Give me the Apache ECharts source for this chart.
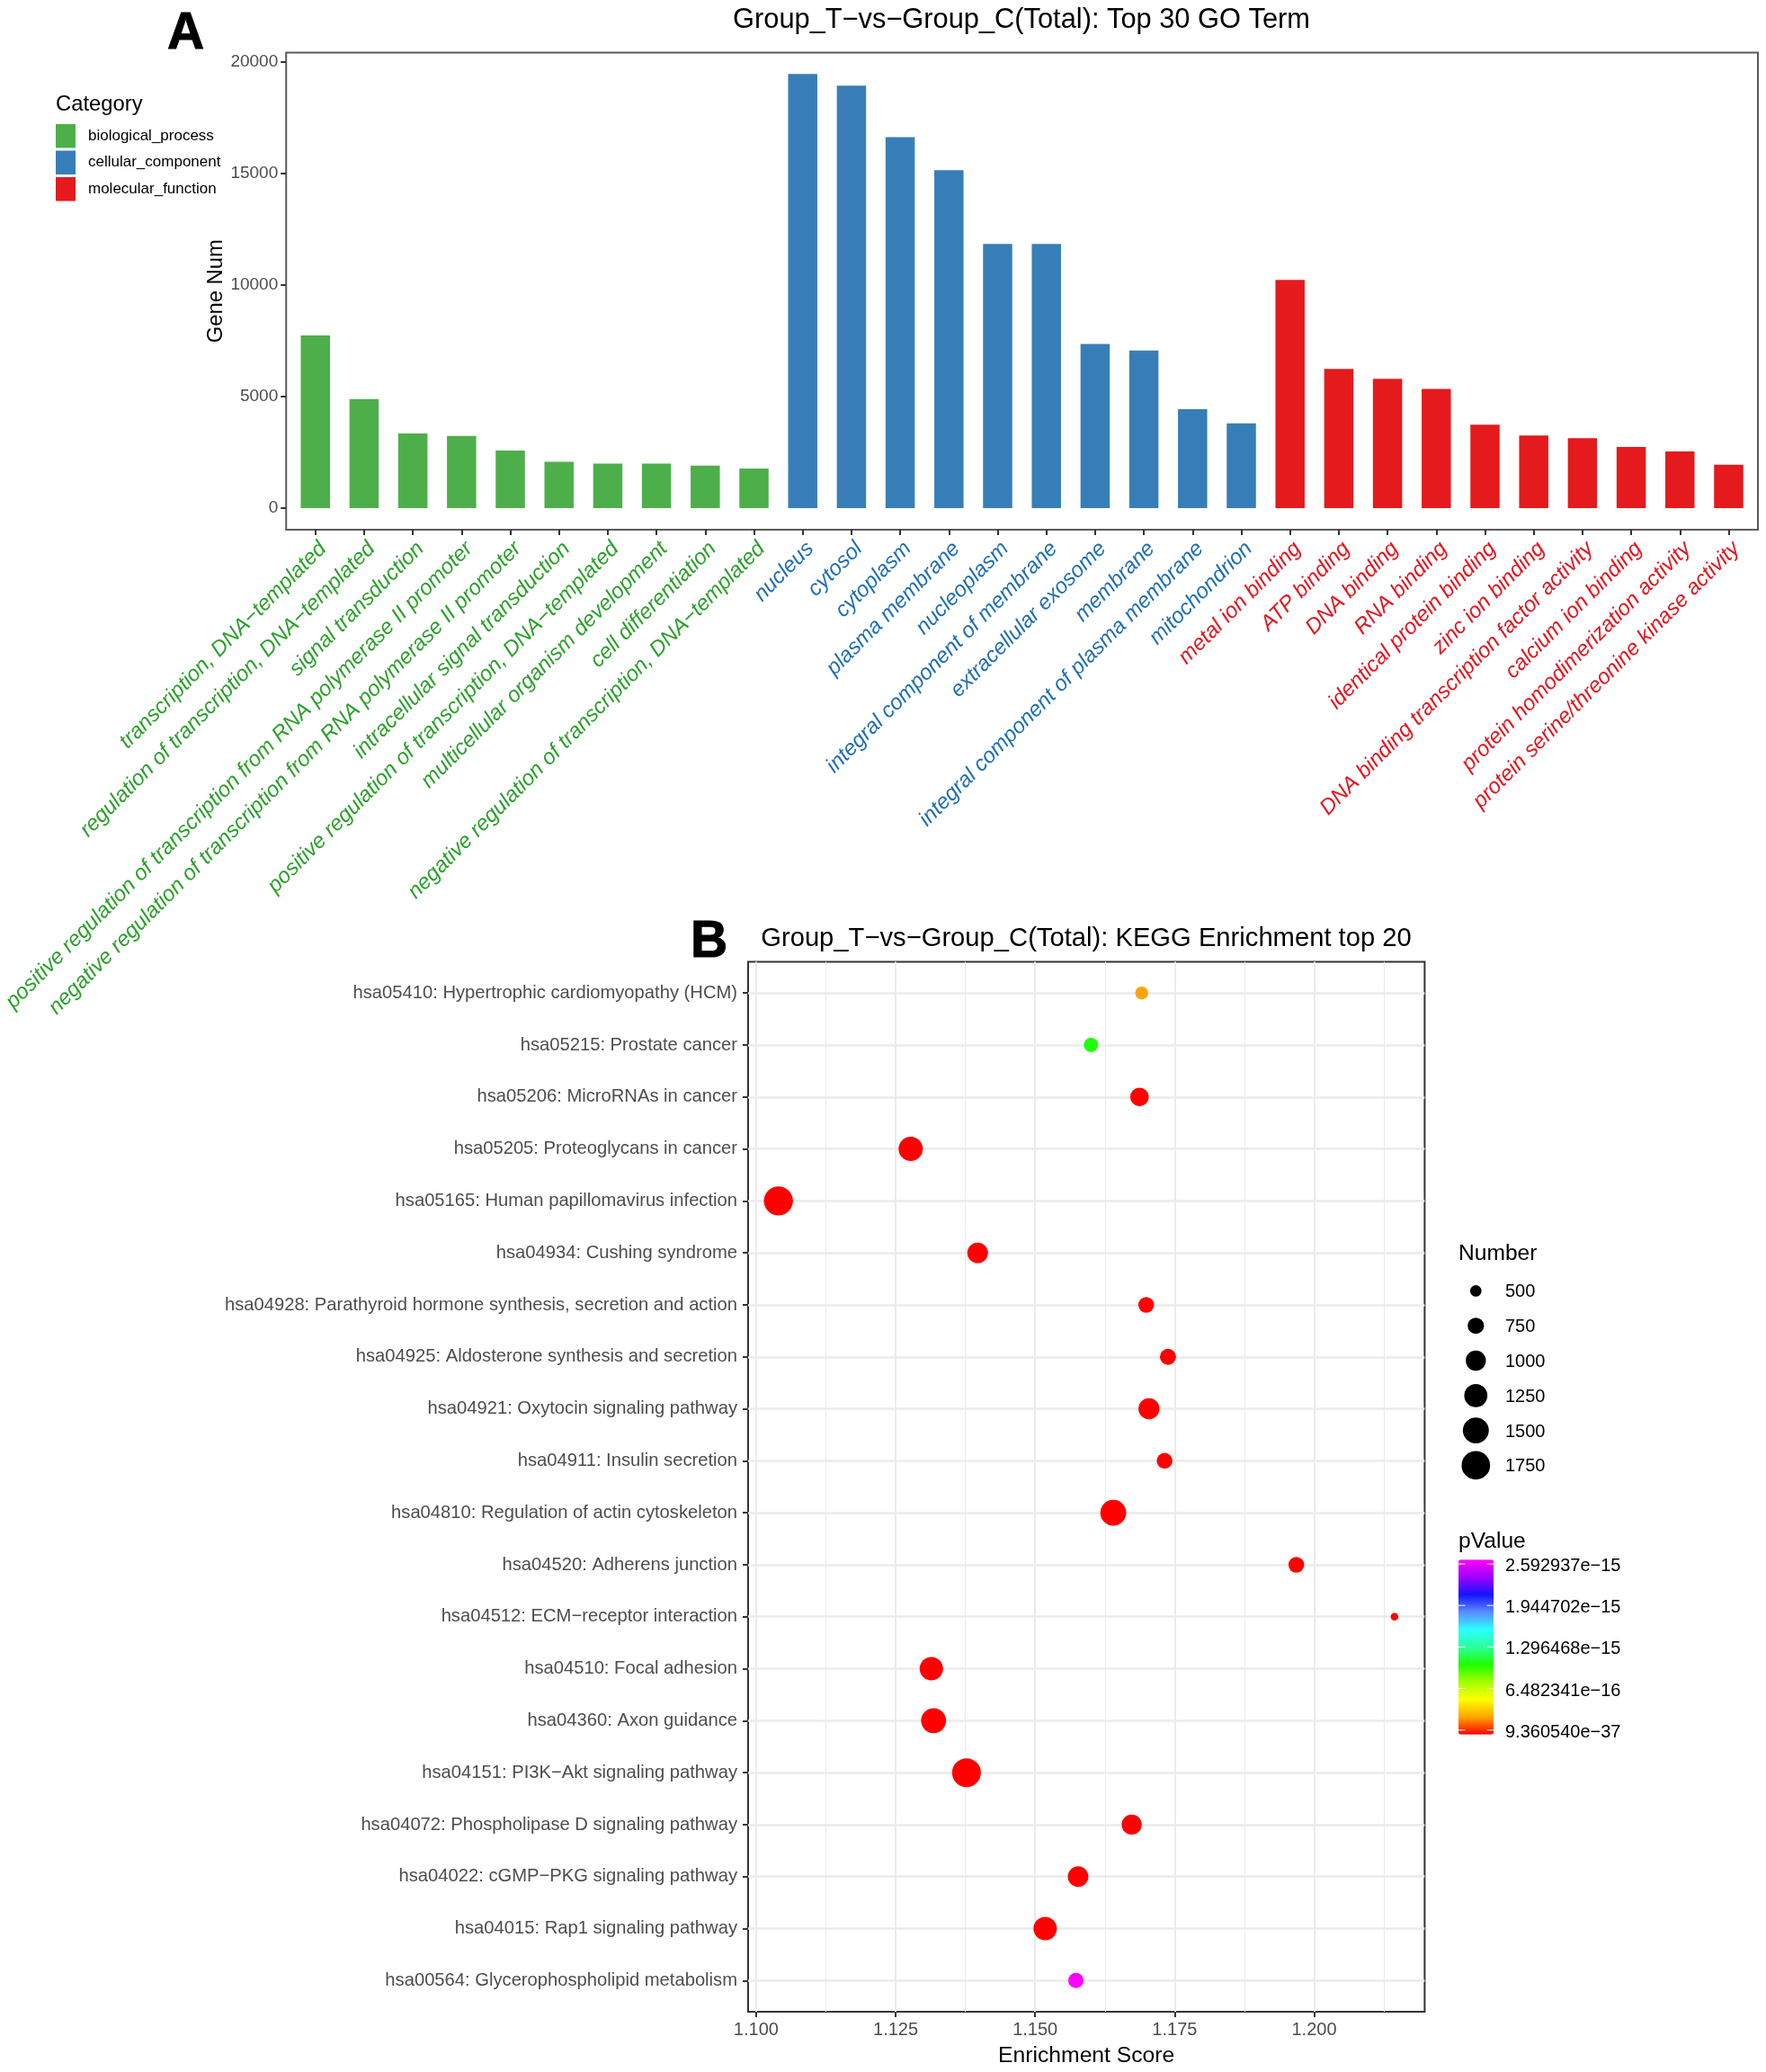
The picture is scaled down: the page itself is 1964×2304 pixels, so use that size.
<!DOCTYPE html>
<html lang="en">
  <head>
    <meta charset="UTF-8" />
    <title>Group_T-vs-Group_C GO and KEGG</title>
    <script src="https://cdn.jsdelivr.net/npm/echarts@6/dist/echarts.min.js"></script>
    <style>
      body { margin: 0; background: #fff; }
    </style>
  </head>
  <body>
    <div id="main" style="width: 1964px; height: 2304px"></div>
    <script type="text/javascript">
      // Panel A: GO terms, one list per category
      const bpTerms = ["transcription, DNA\u2212templated", "regulation of transcription, DNA\u2212templated", "signal transduction",
        "positive regulation of transcription from RNA polymerase II promoter", "negative regulation of transcription from RNA polymerase II promoter",
        "intracellular signal transduction", "positive regulation of transcription, DNA\u2212templated", "multicellular organism development",
        "cell differentiation", "negative regulation of transcription, DNA\u2212templated"];
      const ccTerms = ["nucleus", "cytosol", "cytoplasm", "plasma membrane", "nucleoplasm", "integral component of membrane",
        "extracellular exosome", "membrane", "integral component of plasma membrane", "mitochondrion"];
      const mfTerms = ["metal ion binding", "ATP binding", "DNA binding", "RNA binding", "identical protein binding", "zinc ion binding",
        "DNA binding transcription factor activity", "calcium ion binding", "protein homodimerization activity", "protein serine/threonine kinase activity"];
      const bpCounts = [7740, 4885, 3350, 3240, 2585, 2075, 1995, 1995, 1900, 1770];
      const ccCounts = [19470, 18945, 16630, 15150, 11845, 11840, 7360, 7070, 4435, 3800];
      const mfCounts = [10230, 6240, 5795, 5345, 3735, 3255, 3130, 2745, 2540, 1945];
      const geneTicks = [0, 5000, 10000, 15000, 20000];

      // Panel B: KEGG pathways, top row first
      const pathways = ["hsa05410: Hypertrophic cardiomyopathy (HCM)", "hsa05215: Prostate cancer", "hsa05206: MicroRNAs in cancer",
        "hsa05205: Proteoglycans in cancer", "hsa05165: Human papillomavirus infection", "hsa04934: Cushing syndrome",
        "hsa04928: Parathyroid hormone synthesis, secretion and action", "hsa04925: Aldosterone synthesis and secretion",
        "hsa04921: Oxytocin signaling pathway", "hsa04911: Insulin secretion", "hsa04810: Regulation of actin cytoskeleton",
        "hsa04520: Adherens junction", "hsa04512: ECM\u2212receptor interaction", "hsa04510: Focal adhesion", "hsa04360: Axon guidance",
        "hsa04151: PI3K\u2212Akt signaling pathway", "hsa04072: Phospholipase D signaling pathway", "hsa04022: cGMP\u2212PKG signaling pathway",
        "hsa04015: Rap1 signaling pathway", "hsa00564: Glycerophospholipid metabolism"];
      const scores = [1.1691, 1.16, 1.1687, 1.1277, 1.104, 1.1397, 1.1699, 1.1738, 1.1704, 1.1732,
        1.164, 1.1968, 1.2144, 1.1314, 1.1318, 1.1377, 1.1673, 1.1577, 1.1518, 1.1573];
      const numbers = [570, 640, 900, 1340, 1820, 1040, 715, 740, 1075, 715,
        1485, 715, 370, 1265, 1400, 1780, 1000, 1040, 1265, 690];
      const pValues = [2.6e-16, 1.05e-15, 1e-20, 1e-22, 1e-25, 1e-20, 1e-20, 1e-20, 1e-20, 1e-20,
        1e-22, 1e-20, 9.36054e-37, 1e-24, 1e-26, 1e-22, 1e-20, 1e-20, 1e-22, 2.592937e-15];
      const majorScores = [1.1, 1.125, 1.15, 1.175, 1.2];
      const minorScores = [1.1125, 1.1375, 1.1625, 1.1875, 1.2125];
      const numberLegend = [500, 750, 1000, 1250, 1500, 1750];
      const pLegend = ["2.592937e\u221215", "1.944702e\u221215", "1.296468e\u221215", "6.482341e\u221216", "9.360540e\u221237"];
      const rainbow = ["#ff0000", "#ffa500", "#ffff00", "#a4ff00", "#1cff00", "#2cff9c", "#2cffff", "#5a8cff", "#1414ff", "#a000ff", "#ff00ff"];

      const FONT = '"Liberation Sans", Helvetica, Arial, sans-serif';
      const GREEN = "#4DAF4A", BLUE = "#377EB8", RED = "#E41A1C";
      const LABEL_COLORS = ["#2CA02C", "#1F6EB4", "#E6141E"];

      const terms = bpTerms.concat(ccTerms, mfTerms);
      const termIndex = terms.map((t, i) => i);
      const rowIndex = pathways.map((p, i) => i);

      // point size follows area, fitted on the Number legend
      function dotSize(n) {
        return Math.sqrt(0.675 * n - 177);
      }

      function text(x, y, str, size, extra) {
        return {
          type: "text", x: x, y: y,
          style: Object.assign({ text: str, font: size + "px " + FONT, fill: "#000", align: "left", verticalAlign: "middle" }, extra || {}),
        };
      }

      const heavy = { font: "bold 57px " + FONT, stroke: "#000", lineWidth: 1 };
      const graphics = [
        text(186, 38, "A", 57, heavy),
        text(768, 1048, "B", 57, heavy),
        text(1136, 23, "Group_T\u2212vs\u2212Group_C(Total): Top 30 GO Term", 30.8, { align: "center" }),
        text(1208, 1044, "Group_T\u2212vs\u2212Group_C(Total): KEGG Enrichment top 20", 29.2, { align: "center" }),
        text(62, 116, "Category", 23.8),
        text(1622, 1394, "Number", 24.6),
        text(1622, 1714, "pValue", 24.6),
      ];
      numberLegend.forEach((n, i) => {
        const y = 1435.4 + i * 38.8;
        graphics.push({ type: "circle", shape: { cx: 1641.3, cy: y, r: dotSize(n) / 2 }, style: { fill: "#000" } });
        graphics.push(text(1674, y + 1.5, String(n), 20));
      });
      pLegend.forEach((s, i) => {
        const y = 1739 + i * 46.2;
        graphics.push(text(1674, y + 2.5, s, 20));
        graphics.push({ type: "rect", z: 10, shape: { x: 1622, y: y - 0.5, width: 7.5, height: 1 }, style: { fill: "#fff" } });
        graphics.push({ type: "rect", z: 10, shape: { x: 1653.5, y: y - 0.5, width: 7.5, height: 1 }, style: { fill: "#fff" } });
      });

      function barSeries(name, color, offset, values) {
        return {
          name: name, type: "bar", xAxisIndex: 0, yAxisIndex: 0, barWidth: 32.5, barGap: "-100%",
          itemStyle: { color: color },
          data: values.map((v, i) => [offset + i, v]),
        };
      }

      let myChart = echarts.init(document.getElementById("main"));
      let options = {
        animation: false,
        textStyle: { fontFamily: FONT },
        grid: [
          { left: 317.5, top: 58.5, width: 1637.5, height: 530.5, show: true, borderColor: "#5a5a5a", borderWidth: 2 },
          { left: 832, top: 1069.5, width: 752.4, height: 1169.5, show: true, borderColor: "#333", borderWidth: 2 },
        ],
        legend: {
          orient: "vertical", left: 62, top: 138, padding: 0, itemWidth: 22, itemHeight: 26.5, itemGap: 3, selectedMode: false, icon: "rect",
          itemStyle: { borderWidth: 0 },
          textStyle: { fontSize: 17, color: "#000", fontFamily: FONT, padding: [3, 0, 0, 9] },
          data: ["biological_process", "cellular_component", "molecular_function"],
        },
        visualMap: {
          type: "continuous", seriesIndex: 3, dimension: 3, min: 0, max: 2.592937e-15, calculable: false, showLabel: false, text: null,
          left: 1622, top: 1734.3, padding: 0, itemWidth: 39, itemHeight: 194.4, inRange: { color: rainbow },
        },
        xAxis: [
          {
            gridIndex: 0, type: "value", min: -0.6, max: 29.6, position: "bottom",
            axisLine: { show: false, onZero: false }, splitLine: { show: false },
            axisTick: { length: 6, lineStyle: { color: "#333", width: 2 }, customValues: termIndex },
            axisLabel: {
              customValues: termIndex, rotate: 45, margin: 9, align: "right", verticalAlign: "top", fontStyle: "italic", fontSize: 24, fontFamily: FONT,
              formatter: (v) => terms[v],
              color: (v) => LABEL_COLORS[Math.floor(Number(v) / 10)],
            },
          },
          {
            gridIndex: 1, type: "value", min: 1.09857, max: 1.2198, position: "bottom",
            axisLine: { show: false, onZero: false },
            splitLine: { show: true, lineStyle: { color: "#ebebeb", width: 2 } },
            axisTick: { length: 6, lineStyle: { color: "#333", width: 2 }, customValues: majorScores },
            axisLabel: { customValues: majorScores, margin: 10, fontSize: 20, color: "#4d4d4d", fontFamily: FONT, formatter: (v) => Number(v).toFixed(3) },
            name: "Enrichment Score", nameLocation: "middle", nameGap: 37,
            nameTextStyle: { fontSize: 24.7, color: "#000", fontFamily: FONT },
          },
          {
            gridIndex: 1, type: "value", min: 1.09857, max: 1.2198, position: "top",
            axisLine: { show: false, onZero: false }, axisLabel: { show: false, customValues: minorScores },
            splitLine: { show: true, lineStyle: { color: "#ebebeb", width: 1 } },
            axisTick: { show: false, customValues: minorScores },
          },
        ],
        yAxis: [
          {
            gridIndex: 0, type: "value", min: -968, max: 20423,
            axisLine: { show: false, onZero: false }, splitLine: { show: false },
            axisTick: { length: 6, lineStyle: { color: "#333", width: 2 }, customValues: geneTicks },
            axisLabel: { customValues: geneTicks, margin: 9, fontSize: 19, color: "#4d4d4d", fontFamily: FONT, formatter: (v) => String(v) },
            name: "Gene Num", nameLocation: "middle", nameGap: 66, nameMoveOverlap: false,
            nameTextStyle: { fontSize: 23.8, color: "#000", fontFamily: FONT },
          },
          {
            gridIndex: 1, type: "value", min: -0.6, max: 19.6, inverse: true,
            axisLine: { show: false, onZero: false },
            splitLine: { show: true, lineStyle: { color: "#ebebeb", width: 2.5 } },
            axisTick: { length: 6, lineStyle: { color: "#333", width: 2 }, customValues: rowIndex },
            axisLabel: { customValues: rowIndex, margin: 12, fontSize: 20.2, color: "#4d4d4d", fontFamily: FONT, formatter: (v) => pathways[v] },
          },
        ],
        series: [
          barSeries("biological_process", GREEN, 0, bpCounts),
          barSeries("cellular_component", BLUE, 10, ccCounts),
          barSeries("molecular_function", RED, 20, mfCounts),
          {
            type: "scatter", xAxisIndex: 1, yAxisIndex: 1, clip: false, z: 5,
            itemStyle: { opacity: 1 },
            symbolSize: (val) => dotSize(val[2]),
            data: pathways.map((p, i) => [scores[i], i, numbers[i], pValues[i]]),
          },
        ],
        graphic: graphics,
      };
      myChart.setOption(options);
    </script>
  </body>
</html>
